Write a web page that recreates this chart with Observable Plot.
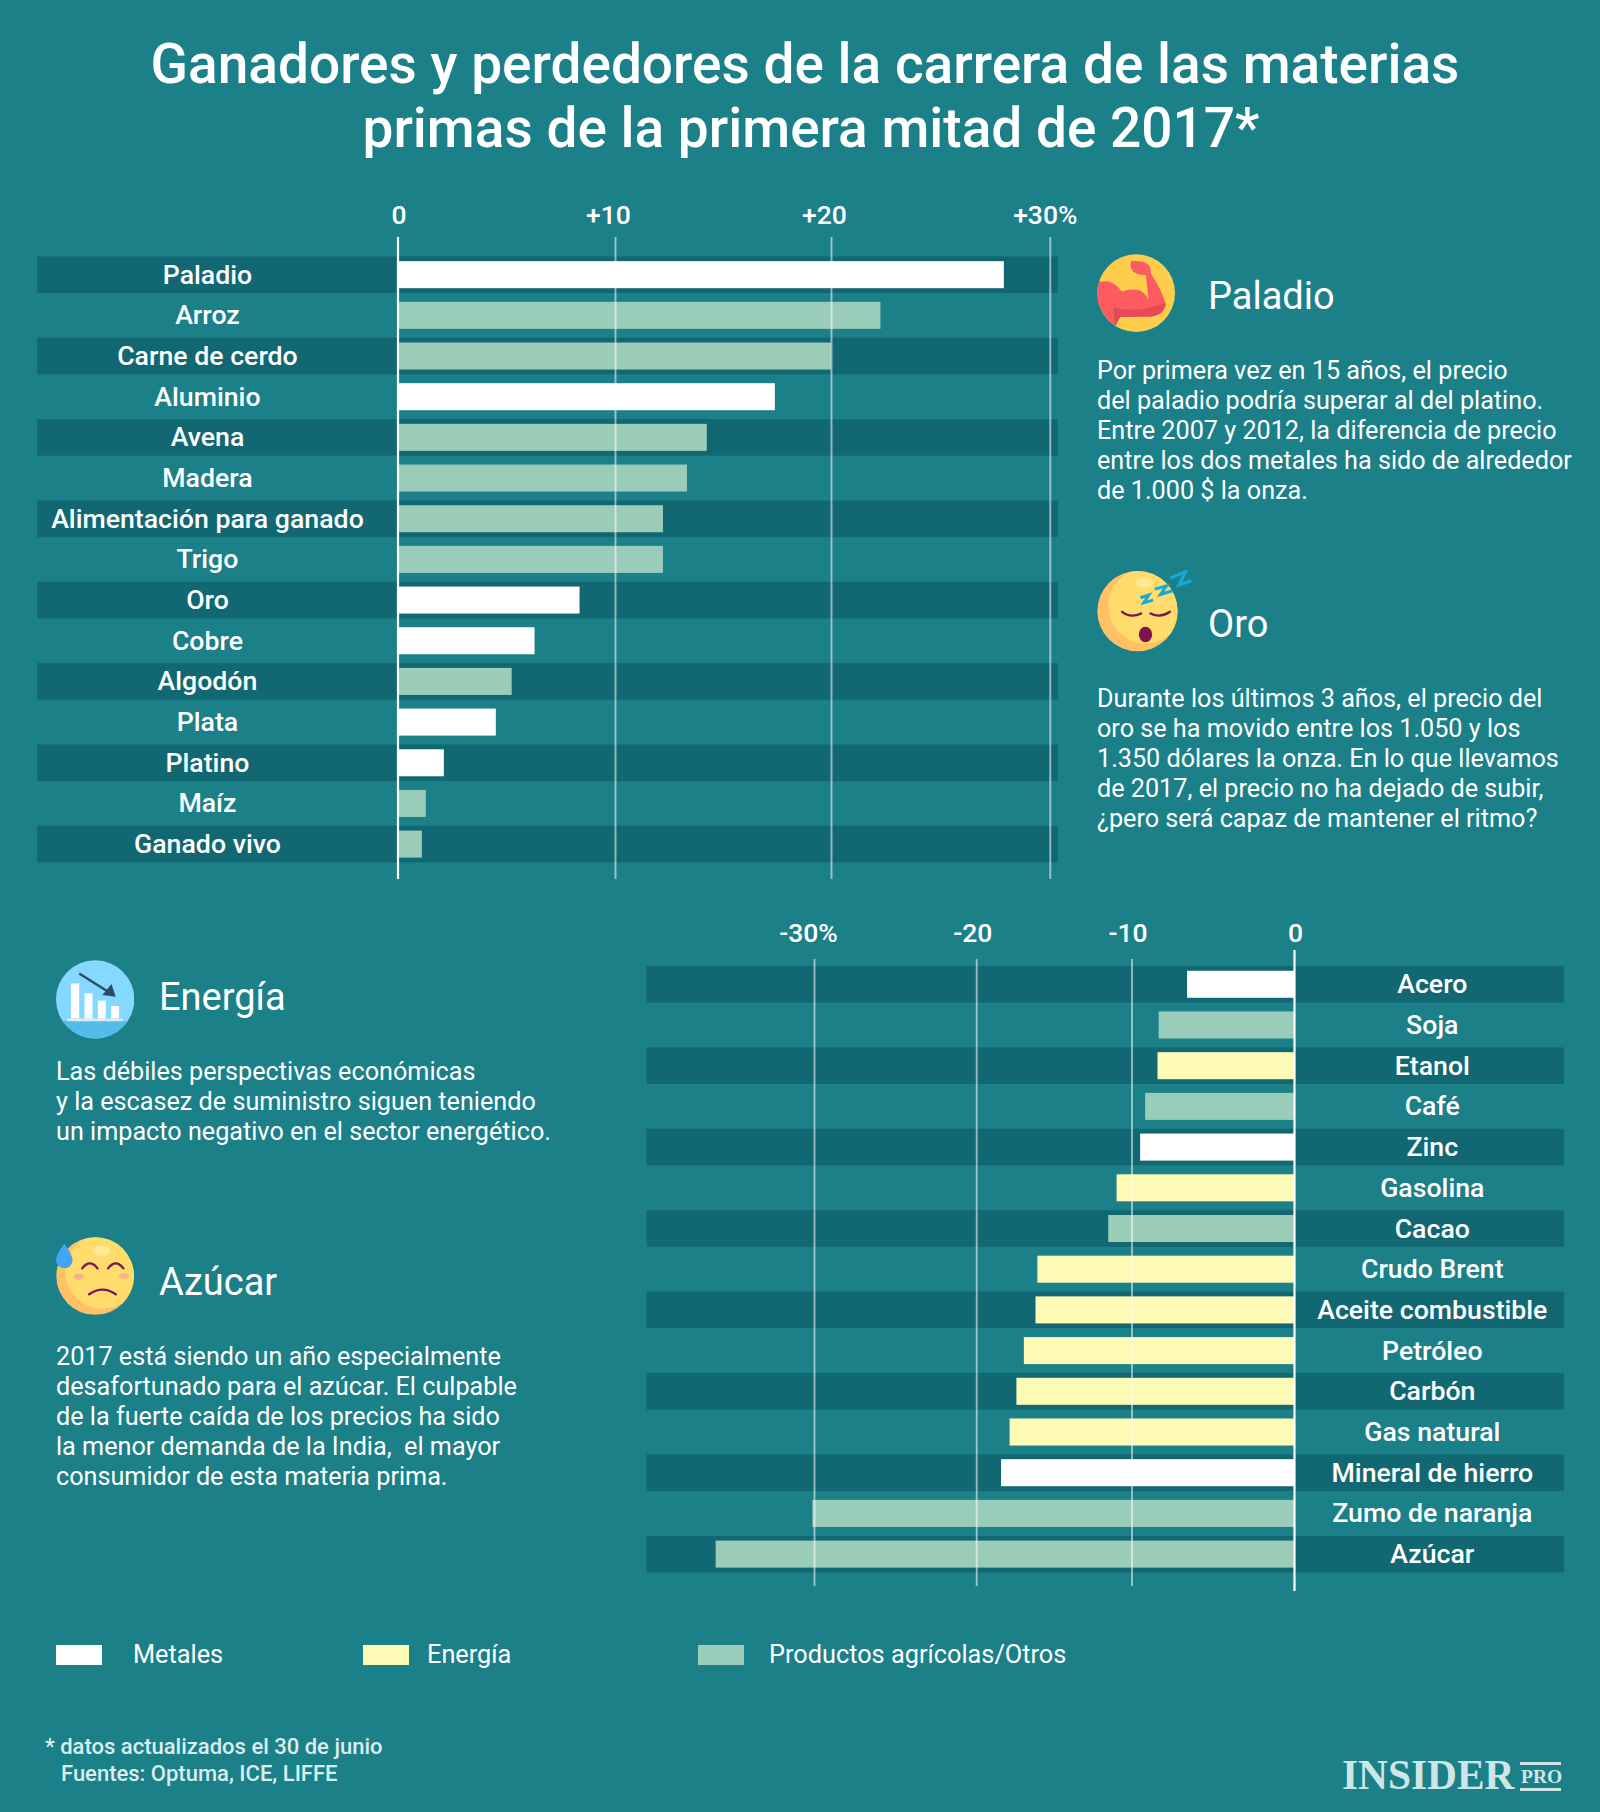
<!DOCTYPE html>
<html lang="es">
<head>
<meta charset="utf-8">
<script src="https://cdn.jsdelivr.net/npm/d3@7"></script>
<script src="https://cdn.jsdelivr.net/npm/@observablehq/plot@0.6"></script>
<style>
html,body{margin:0;padding:0;background:#1c8089;}
#page{position:relative;width:1600px;height:1812px;background:#1c8089;overflow:hidden;font-family:Roboto,sans-serif;color:#fff;}
#page>div{position:absolute;white-space:pre;}
#page>svg{position:absolute;}
</style>
</head>
<body>
<div id="page"></div>
<script>
const titleLines = ["Ganadores y perdedores de la carrera de las materias", "primas de la primera mitad de 2017*"];

const gainNames = ["Paladio","Arroz","Carne de cerdo","Aluminio","Avena","Madera","Alimentación para ganado","Trigo","Oro","Cobre","Algodón","Plata","Platino","Maíz","Ganado vivo"];
const gainValues = [27.9,22.26,20,17.4,14.25,13.33,12.22,12.22,8.37,6.3,5.25,4.52,2.13,1.3,1.12];
const gainTypes = ["M","A","A","M","A","A","A","A","M","M","A","M","M","A","A"];
const gainTicks = [0,10,20,30];
const gainTickLabels = ["0","+10","+20","+30%"];

const lossNames = ["Acero","Soja","Etanol","Café","Zinc","Gasolina","Cacao","Crudo Brent","Aceite combustible","Petróleo","Carbón","Gas natural","Mineral de hierro","Zumo de naranja","Azúcar"];
const lossValues = [-6.58,-8.33,-8.4,-9.16,-9.47,-10.96,-11.5,-16.06,-16.18,-16.93,-17.41,-17.85,-18.4,-30.1,-36.15];
const lossTypes = ["M","A","E","A","M","E","A","E","E","E","E","E","M","A","A"];
const lossTicks = [-30,-20,-10,0];
const lossTickLabels = ["-30%","-20","-10","0"];

const typeKeys = ["M","E","A"];
const typeNames = ["Metales","Energía","Productos agrícolas/Otros"];
const typeColors = ["#ffffff","#fdfbb5","rgba(157,206,186,0.98)"];

const BG = "#1c8089", BAND = "#126872";
const page = document.getElementById("page");

function place(text, x, baseline, size, weight, opts = {}) {
  const d = document.createElement("div");
  const L = Math.round(size * 1.3);
  d.textContent = text;
  d.style.cssText = `left:${x}px;top:${baseline - L/2 - 0.341*size}px;font-size:${size}px;line-height:${L}px;font-weight:${weight};`;
  Object.assign(d.style, opts);
  page.appendChild(d);
  return d;
}

function chart(cfg) {
  const rows = cfg.names.map((name,i)=>({name, value: cfg.values[i], type: cfg.types[i]}));
  const stripes = cfg.names.filter((_,i)=>i%2===0);
  const ticks = cfg.ticks;
  const lo = cfg.xDomain[0], hi = cfg.xDomain[cfg.xDomain.length-1];
  const tickMarks = ticks.map((t,i)=>Plot.text([t],{
    x:d=>d, frameAnchor:"top", dy:cfg.tickDy, dx:cfg.tickDx[i], text:()=>cfg.tickLabels[i],
    fill:"#fff", fontSize:26.5, fontWeight:500, lineAnchor:"middle"
  }));
  const p = Plot.plot({
    width: cfg.width, height: cfg.height,
    marginTop: cfg.mt, marginBottom: cfg.mb, marginLeft: 0, marginRight: 0,
    style: {background:"transparent", fontFamily:"Roboto, sans-serif", overflow:"visible"},
    x: {type:"linear", domain: cfg.xDomain, range: cfg.xRange, axis: null},
    y: {type:"band", domain: cfg.names, range: cfg.yRange, padding: 0.1, round: false, axis: null},
    color: {type:"ordinal", domain: typeKeys, range: typeColors},
    marks: [
      Plot.barX(stripes,{x1:()=>lo, x2:()=>hi, y:d=>d, fill:BAND}),
      Plot.barX(rows,{x1:()=>0, x2:"value", y:"name", fill:"type", insetTop:4.8, insetBottom:4.8}),
      Plot.ruleX(ticks.filter(t=>t!==0),{x:d=>d, stroke:"#fff", strokeOpacity:0.55, strokeWidth:1.9}),
      Plot.ruleX([0],{x:d=>d, stroke:"#fff", strokeWidth:2.2, insetTop:cfg.zeroTop, insetBottom:cfg.zeroBottom}),
      Plot.text(cfg.names,{x:()=>cfg.labelX, y:d=>d, text:d=>d, fill:"#fff", fontSize:26.7, fontWeight:500, textAnchor:"middle", lineAnchor:"middle"}),
      ...tickMarks
    ]
  });
  p.style.left = cfg.left+"px"; p.style.top = cfg.top+"px"; p.style.position="absolute";
  page.appendChild(p);
}

chart({names:gainNames, values:gainValues, types:gainTypes, ticks:gainTicks, tickLabels:gainTickLabels,
  left:0, top:190, width:1085, height:690, mt:47, mb:1,
  xDomain:[-16.64,0,10,20,30,30.36], xRange:[37.2,397.5,615,831,1049.8,1057.9], yRange:[62.3,676.5],
  labelX:-8.8, tickDy:-21.5, tickDx:[1,-7,-7,-5], zeroTop:0, zeroBottom:0});

chart({names:lossNames, values:lossValues, types:lossTypes, ticks:lossTicks, tickLabels:lossTickLabels,
  left:640, top:910, width:960, height:690, mt:49, mb:14,
  xDomain:[-40.46,-30,-20,-10,0,16.85], xRange:[6.7,174,336.2,491.5,654,924], yRange:[51.9,666.5],
  labelX:8.6, tickDy:-25.5, tickDx:[-6,-4,-4,1], zeroTop:-9, zeroBottom:-5});

// title
titleLines.forEach((t,i)=>{
  place(t, [0,6][i], [83,147][i], 55, 500, {width:"1610px", textAlign:"center"});
});

// side panels
const panels = [
  {head:"Paladio", hx:1208, hy:309, x:1097, y:379.5, lines:["Por primera vez en 15 años, el precio","del paladio podría superar al del platino.","Entre 2007 y 2012, la diferencia de precio","entre los dos metales ha sido de alrededor","de 1.000 $ la onza."]},
  {head:"Oro", hx:1208, hy:637, x:1097, y:707.5, lines:["Durante los últimos 3 años, el precio del","oro se ha movido entre los 1.050 y los","1.350 dólares la onza. En lo que llevamos","de 2017, el precio no ha dejado de subir,","¿pero será capaz de mantener el ritmo?"]},
  {head:"Energía", hx:159, hy:1010, x:56, y:1080.5, lines:["Las débiles perspectivas económicas","y la escasez de suministro siguen teniendo","un impacto negativo en el sector energético."]},
  {head:"Azúcar", hx:159, hy:1295, x:56, y:1365.5, lines:["2017 está siendo un año especialmente","desafortunado para el azúcar. El culpable","de la fuerte caída de los precios ha sido","la menor demanda de la India,  el mayor","consumidor de esta materia prima."]}
];
panels.forEach(p=>{
  place(p.head,p.hx,p.hy,38,400);
  p.lines.forEach((l,i)=>place(l,p.x,p.y+i*30,25.2,400));
});

// legend
const legendSwatchX = [56,363,698], legendTextX = [133,427,769];
typeNames.forEach((n,i)=>{
  const s = document.createElement("div");
  s.style.cssText = `left:${legendSwatchX[i]}px;top:1645px;width:46px;height:20px;background:${typeColors[i]};`;
  page.appendChild(s);
  place(n,legendTextX[i],1663.5,25.3,400);
});

// footnote
place("* datos actualizados el 30 de junio",45,1754.5,22,500,{color:"#d9eeee"});
place("Fuentes: Optuma, ICE, LIFFE",61,1781.5,22,500,{color:"#d9eeee"});

// logo
place("INSIDER",1342,1790,42,700,{color:"#cfe6e6",fontFamily:"'Liberation Serif',serif",transform:"scaleX(.985)",transformOrigin:"left"});
place("PRO",1521,1783,19.5,700,{color:"#cfe6e6",fontFamily:"'Liberation Serif',serif"});
[1762,1788].forEach(y=>{const r=document.createElement("div");r.style.cssText=`left:1520px;top:${y}px;width:41px;height:2.5px;background:#cfe6e6;`;page.appendChild(r);});

// icons
const PURPLE = "#7a1550";
const icons = [
  {left:1097,top:254,w:78,h:78,vb:"50 42 235 235",svg:`
   <defs><clipPath id="c1"><circle cx="168" cy="160" r="117"/></clipPath></defs>
   <circle cx="168" cy="160" r="117" fill="#ffcd4c"/>
   <g clip-path="url(#c1)">
   <path fill="#fd5c63" d="M45 125L85 125Q105 130 125 155Q150 145 180 152Q195 160 205 178L197 105Q165 105 155 90Q145 75 155 62L190 65Q215 75 212 100Q245 150 258 195Q250 225 215 230L120 232L103 262L45 240Z"/>
   <path fill="#e54b57" d="M100 203Q170 222 256 190Q254 225 215 230L120 232L103 262Z"/>
   </g>`},
  {left:1097,top:570,w:97,h:92,vb:"50 990 290 275",svg:`
   <defs><clipPath id="c2"><circle cx="171" cy="1113" r="120"/></clipPath></defs>
   <circle cx="171" cy="1113" r="120" fill="#ffc066"/>
   <circle cx="196" cy="1098" r="112" fill="#ffdc6b" clip-path="url(#c2)"/>
   <ellipse cx="192" cy="1028" rx="25" ry="15" fill="#ffea94"/>
   <path fill="none" stroke="${PURPLE}" stroke-width="7" stroke-linecap="round" d="M125 1115Q150 1135 182 1120M210 1120Q240 1135 268 1115"/>
   <ellipse cx="195" cy="1183" rx="20" ry="23" fill="${PURPLE}"/>
   <path fill="none" stroke="#19a9d8" stroke-width="9" stroke-linejoin="miter" d="M180 1073L205 1065L190 1088L218 1080M223 1047L258 1037L240 1063L275 1052M268 1015L315 995L295 1035L332 1022"/>`},
  {left:56,top:960,w:78,h:79,vb:"78 60 235 237",svg:`
   <defs><clipPath id="c3"><circle cx="196" cy="178" r="118"/></clipPath></defs>
   <circle cx="196" cy="178" r="118" fill="#85d8ff"/>
   <rect x="70" y="243" width="250" height="60" fill="#52bdeb" clip-path="url(#c3)"/>
   <g fill="#fff"><rect x="123" y="130" width="25" height="106"/><rect x="164" y="160" width="24" height="76"/><rect x="204" y="182" width="24" height="54"/><rect x="244" y="198" width="24" height="38"/></g>
   <rect x="112" y="236" width="168" height="8" fill="#e6e9f0"/>
   <path stroke="#2e4a62" stroke-width="7" d="M148 100L240 158"/>
   <path fill="#2e4a62" d="M258 170L218 165L245 132Z"/>`},
  {left:56,top:1237,w:78,h:79,vb:"78 891 235 237",svg:`
   <defs><clipPath id="c4"><circle cx="196" cy="1008" r="117"/></clipPath></defs>
   <circle cx="196" cy="1008" r="117" fill="#ffc066"/>
   <circle cx="218" cy="995" r="112" fill="#ffdc6b" clip-path="url(#c4)"/>
   <ellipse cx="215" cy="932" rx="25" ry="15" fill="#ffea94"/>
   <ellipse cx="147" cy="1010" rx="16" ry="9" fill="#f9b384"/><ellipse cx="283" cy="1008" rx="16" ry="9" fill="#f9b384"/>
   <path fill="none" stroke="${PURPLE}" stroke-width="7" stroke-linecap="round" d="M157 985Q180 955 203 985M235 985Q258 955 281 985M178 1063Q218 1035 258 1063"/>
   <path fill="#42a5f5" d="M103 910Q128 945 128 960A25 25 0 0 1 78 960Q78 945 103 910Z"/>`}
];
icons.forEach(ic=>{
  const w = document.createElement("div");
  w.style.cssText = `left:${ic.left}px;top:${ic.top}px;width:${ic.w}px;height:${ic.h}px;`;
  w.innerHTML = `<svg xmlns="http://www.w3.org/2000/svg" width="${ic.w}" height="${ic.h}" viewBox="${ic.vb}">${ic.svg}</svg>`;
  page.appendChild(w);
});
</script>
</body>
</html>
